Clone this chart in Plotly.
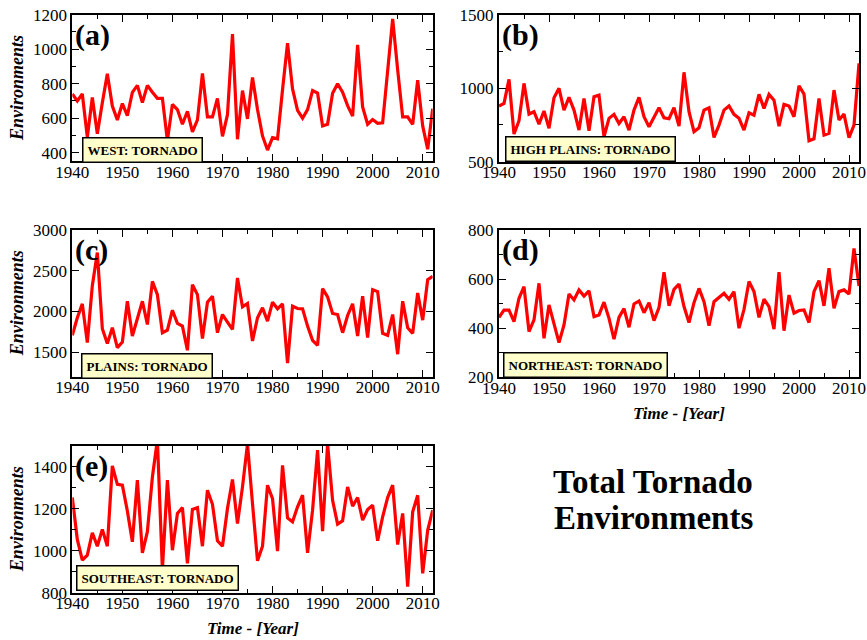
import plotly.graph_objects as go

years = list(range(1940, 2013))

west = [740, 700, 740, 490, 720, 510, 690, 858, 670, 590, 685, 615, 750, 790, 690, 790, 750, 715, 715, 470,
        680, 650, 565, 640, 520, 590, 860, 608, 608, 715, 495, 620, 1088, 478, 760, 596, 836, 650, 497, 415,
        487, 480, 765, 1035, 770, 645, 600, 650, 760, 745, 555, 565, 745, 800, 750, 673, 612, 1025, 665, 565,
        592, 570, 573, 875, 1175, 880, 608, 608, 564, 820, 555, 420, 655]

high_plains = [879, 897, 1060, 688, 779, 1033, 824, 840, 756, 845, 727, 935, 999, 851, 937, 851, 715, 930, 711, 942,
               953, 670, 795, 822, 760, 806, 715, 851, 937, 806, 738, 801, 867, 799, 792, 867, 742, 1108, 840, 704,
               731, 851, 867, 665, 749, 851, 879, 822, 795, 715, 833, 817, 958, 863, 958, 919, 742, 890, 879, 806,
               1017, 960, 643, 656, 930, 681, 693, 987, 783, 824, 663, 749, 1169]

plains = [1707, 1923, 2094, 1618, 2317, 2724, 1789, 1606, 1801, 1557, 1626, 2126, 1699, 1911, 2126, 1841, 2370, 2207, 1740, 1772,
          2016, 1854, 1821, 1524, 2329, 2207, 1667, 2114, 2187, 1740, 1963, 1870, 1780, 2411, 2057, 2098, 1638, 1923, 2045, 1882,
          2114, 2033, 2094, 1366, 2065, 2037, 2033, 1821, 1646, 1585, 2280, 2179, 1976, 1963, 1740, 1951, 2094, 1699, 2187, 1679,
          2268, 2244, 1732, 1707, 1963, 1476, 2126, 1801, 1732, 2228, 1894, 2390, 2431]

northeast = [444, 474, 474, 427, 522, 569, 386, 434, 583, 359, 495, 413, 341, 413, 539, 515, 556, 531, 552, 447,
             454, 506, 440, 355, 444, 480, 404, 499, 511, 463, 504, 431, 484, 628, 491, 558, 580, 488, 423, 504,
             562, 508, 410, 508, 526, 542, 518, 549, 400, 477, 590, 549, 444, 518, 488, 396, 628, 390, 535, 461,
             472, 474, 423, 549, 594, 491, 644, 481, 549, 556, 539, 725, 572]

southeast = [1254, 1054, 956, 979, 1086, 1022, 1102, 1022, 1405, 1317, 1313, 1190, 1043, 1337, 990, 1091, 1352, 1530, 910, 1337,
             1003, 1178, 1206, 940, 1197, 1206, 1022, 1289, 1222, 1048, 1022, 1202, 1340, 1130, 1305, 1510, 1225, 952, 1022, 1313,
             1249, 998, 1408, 1157, 1138, 1210, 1265, 990, 1194, 1480, 1094, 1510, 1241, 1127, 1143, 1305, 1213, 1254, 1146, 1197,
             1217, 1048, 1162, 1254, 1313, 1030, 1178, 829, 1186, 1265, 892, 1098, 1194]

panel_labels = ["(a)", "(b)", "(c)", "(d)", "(e)"]
box_labels = ["WEST: TORNADO", "HIGH PLAINS: TORNADO", "PLAINS: TORNADO", "NORTHEAST: TORNADO", "SOUTHEAST: TORNADO"]
series = [west, high_plains, plains, northeast, southeast]
y_ranges = [[350, 1200], [500, 1500], [1200, 3000], [200, 800], [800, 1500]]
y_dticks = [200, 500, 500, 200, 200]
y_minor = [100, 250, None, 100, 100]
x_ticks = [1940, 1950, 1960, 1970, 1980, 1990, 2000, 2010]
title_lines = ["Total Tornado", "Environments"]

W, H = 867, 640


def px(x):
    return x / W


def py(y):
    return 1 - y / H


# panel pixel boxes in page coordinates (left, right, top, bottom)
boxes = [
    (72.3, 432.7, 14.7, 161.3),
    (499, 859, 14.7, 161.7),
    (72.3, 432.7, 230, 376.7),
    (499, 859, 230, 377.3),
    (72.3, 432.7, 446, 592.7),
]
label_boxes = [(142, 149.5), (590, 149), (147, 366), (585, 365), (157, 578)]

FONT = "'Liberation Serif', 'Times New Roman', Times, serif"
fig = go.Figure()
annotations = []
for i, (ys, (l, r, t, b)) in enumerate(zip(series, boxes)):
    n = "" if i == 0 else str(i + 1)
    fig.add_trace(go.Scatter(x=years, y=ys, mode="lines", line=dict(color="#ff0000", width=3.2),
                             xaxis="x" + n, yaxis="y" + n, showlegend=False, hoverinfo="skip"))
    xa = dict(domain=[px(l), px(r)], range=[1940, 2012], anchor="y" + n, automargin=False,
              tickvals=x_ticks, ticks="inside", ticklen=7, tickwidth=1.2, tickcolor="black",
              showline=True, linecolor="black", linewidth=2, mirror="allticks",
              showgrid=False, zeroline=False, ticklabeloverflow="allow", ticklabelstandoff=-6,
              tickfont=dict(family=FONT, size=17, color="black"),
              minor=dict(dtick=5, tick0=1940, ticks="inside", ticklen=4, tickcolor="black", showgrid=False))
    ya = dict(domain=[py(b), py(t)], range=y_ranges[i], anchor="x" + n, automargin=False,
              dtick=y_dticks[i], ticks="inside", ticklen=7, tickwidth=1.2, tickcolor="black",
              showline=True, linecolor="black", linewidth=2, mirror="allticks",
              showgrid=False, zeroline=False, ticklabeloverflow="allow",
              tickfont=dict(family=FONT, size=17, color="black"))
    if y_minor[i]:
        ya["minor"] = dict(dtick=y_minor[i], ticks="inside", ticklen=4, tickcolor="black", showgrid=False)
    fig.update_layout(**{"xaxis" + n: xa, "yaxis" + n: ya})

    annotations.append(dict(text="<b>%s</b>" % panel_labels[i], x=px(l + 1), y=py(t + 1),
                            xref="paper", yref="paper", xanchor="left", yanchor="top", showarrow=False,
                            font=dict(family=FONT, size=30, color="black")))
    cx, cy = label_boxes[i]
    annotations.append(dict(text="<b>%s</b>" % box_labels[i], x=px(cx), y=py(cy),
                            xref="paper", yref="paper", xanchor="center", yanchor="middle", showarrow=False,
                            font=dict(family=FONT, size=13, color="black"),
                            bgcolor="#ffffcc", bordercolor="black", borderwidth=1.5, borderpad=4))
    if i in (0, 2, 4):
        annotations.append(dict(text="<b><i>Environments</i></b>", x=px(17), y=py((t + b) / 2),
                                xref="paper", yref="paper", xanchor="center", yanchor="middle",
                                showarrow=False, textangle=-90,
                                font=dict(family=FONT, size=18, color="black")))
    if i in (3, 4):
        annotations.append(dict(text="<b><i>Time - [Year]</i></b>", x=px((l + r) / 2),
                                y=py(b + 36), xref="paper", yref="paper",
                                xanchor="center", yanchor="middle", showarrow=False,
                                font=dict(family=FONT, size=17, color="black")))

for k, line in enumerate(title_lines):
    annotations.append(dict(text="<b>%s</b>" % line, x=px(653), y=py(482 + 36 * k),
                            xref="paper", yref="paper", xanchor="center", yanchor="middle", showarrow=False,
                            font=dict(family=FONT, size=33, color="black")))

fig.update_layout(width=W, height=H, margin=dict(l=0, r=0, t=0, b=0),
                  paper_bgcolor="white", plot_bgcolor="white", annotations=annotations,
                  hovermode=False)
fig.write_html("out.html", config=dict(displayModeBar=False),
               post_script="document.body.style.margin='0';document.body.style.overflow='hidden';")
